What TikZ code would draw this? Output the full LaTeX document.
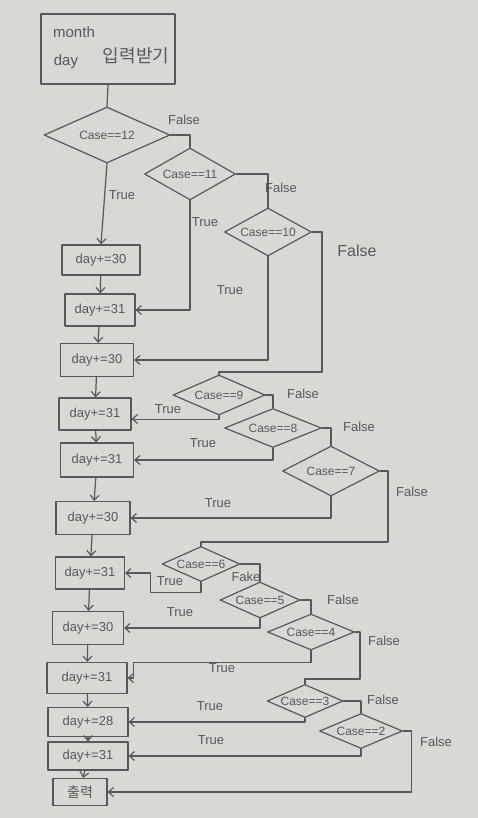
\documentclass[tikz,border=0pt]{standalone}
\usepackage{fontspec}
\setmainfont{Liberation Sans}
\newfontfamily\kor{Noto Sans CJK KR}
\usetikzlibrary{shapes.geometric,arrows.meta}
\definecolor{pencil}{RGB}{88,88,88}
\definecolor{paper}{RGB}{216,216,213}
\begin{document}
\begin{tikzpicture}[line join=round, line cap=round,>={Straight Barb[length=5pt,width=9pt]},x=1pt,y=-1pt,
    every node/.style={text=pencil},
    box/.style={draw=pencil,line width=1.2pt,inner sep=0pt,font=\fontsize{13}{13}\selectfont},
    cond/.style={draw=pencil,line width=1.2pt,diamond,aspect=2.4,inner sep=0pt,font=\fontsize{12}{12}\selectfont},
    lbl/.style={font=\fontsize{13}{13}\selectfont},
    wire/.style={draw=pencil,line width=1.2pt}]
    \fill[paper] (0,0) rectangle (478,818);
    % input
    \node[box,minimum width=134pt,minimum height=70pt] (inp) at (108,49) {};
    \node[font=\fontsize{15}{15}\selectfont] (tm) at (74,32) {month};
    \node[font=\fontsize{15}{15}\selectfont] (td) at (66,62) {day};
    \node[font=\kor\fontsize{18}{18}\selectfont] (tk) at (136,56) {입력받기};
    % day boxes
    \foreach \n/\x/\y/\w/\h/\t in {b1/101/260/78/30/30,b2/100/310/70/32/31,b3/97/360/73/33/30,
        b4/95/414/72/32/31,b5/97/460/73/34/31,b6/93/518/74/33/30,b7/90/573/69/32/31,
        b8/88/628/71/33/30,b9/87/678/80/31/31,b10/88/722/80/29/28,b11/88/756/80/28/31}
    \node[box,minimum width=\w pt,minimum height=\h pt] (\n) at (\x,\y) {day+=\t};
    \node[box,minimum width=54pt,minimum height=27pt,font=\kor\fontsize{14}{14}\selectfont] (out) at (80,792) {출력};
    % conditions
    \foreach \n/\x/\y/\w/\h/\t in {c12/107/135/126/56/12,c11/190/174/91/52/11,c10/268/232/87/48/10,
        c9/219/395/92/40/9,c8/273/428/97/39/8,c7/331/471/97/50/7,c6/201/564/78/35/6,
        c5/260/600/80/36/5,c4/311/632/87/36/4,c3/305/701/76/33/3,c2/361/731/83/35/2}
    \node[cond,minimum width=\w pt,minimum height=\h pt] (\n) at (\x,\y) {Case==\t};
    % labels
    \foreach \n/\x/\y/\t in {f12/184/120/False,t12/122/195/True,t11/205/222/True,f11/281/188/False,
        t10/230/290/True,f9/303/394/False,t9/168/409/True,t8/203/443/True,f8/359/427/False,
        t7/218/503/True,f7/412/492/False,t6/170/581/True,f6/246/577/Fake,t5/180/612/True,
        f5/343/600/False,t4/222/668/True,f4/384/641/False,t3/210/706/True,f3/383/700/False,
        t2/211/740/True,f2/436/742/False}
    \node[lbl] (\n) at (\x,\y) {\t};
    \node[font=\fontsize{16}{16}\selectfont] (f10) at (357,251) {False};
    \coordinate (j10) at (322,372);
    \coordinate (j7) at (388,542);
    \coordinate (j4) at (360,679);
    % main column
    \draw[wire] (inp.south) -- (c12.north);
    \draw[wire,->] (c12.south) -- (b1.north);
    \foreach \a/\b in {b1/b2,b2/b3,b3/b4,b4/b5,b5/b6,b6/b7,b7/b8,b8/b9,b9/b10,b10/b11,b11/out}
    \draw[wire,->] (\a) -- (\b);
    % false branches
    \draw[wire] (c12.east) -| (c11.north);
    \draw[wire] (c11.east) -| (c10.north);
    \draw[wire] (c10.east) -| (j10) -| (c9.north);
    \draw[wire] (c9.east) -| (c8.north);
    \draw[wire] (c8.east) -| (c7.north);
    \draw[wire] (c7.east) -| (j7) -| (c6.north);
    \draw[wire] (c6.east) -| (c5.north);
    \draw[wire] (c5.east) -| (c4.north);
    \draw[wire] (c4.east) -| (j4) -| (c3.north);
    \draw[wire] (c3.east) -| (c2.north);
    \draw[wire,->] (c2.east) -- ++(8,0) |- (out.east);
    % true branches
    \draw[wire,->] (c11.south) |- (b2.east);
    \draw[wire,->] (c10.south) |- (b3.east);
    \draw[wire,->] (c9.south) -- ++(0,4) -| ([xshift=1pt]b4.east |- 0,419) -- (b4.east |- 0,419);
    \draw[wire,->] (c8.south) |- (b5.east);
    \draw[wire,->] (c7.south) |- (b6.east);
    \draw[wire,->] (c6.south) -- ++(0,10) -| ([xshift=25pt]b7.east) -- (b7.east);
    \draw[wire,->] (c5.south) |- (b8.east);
    \draw[wire,->] (c4.south) -- ++(0,12) -| ([xshift=6pt]b9.east) -- (b9.east);
    \draw[wire,->] (c3.south) |- (b10.east);
    \draw[wire,->] (c2.south) |- (b11.east);
\end{tikzpicture}
\end{document}
